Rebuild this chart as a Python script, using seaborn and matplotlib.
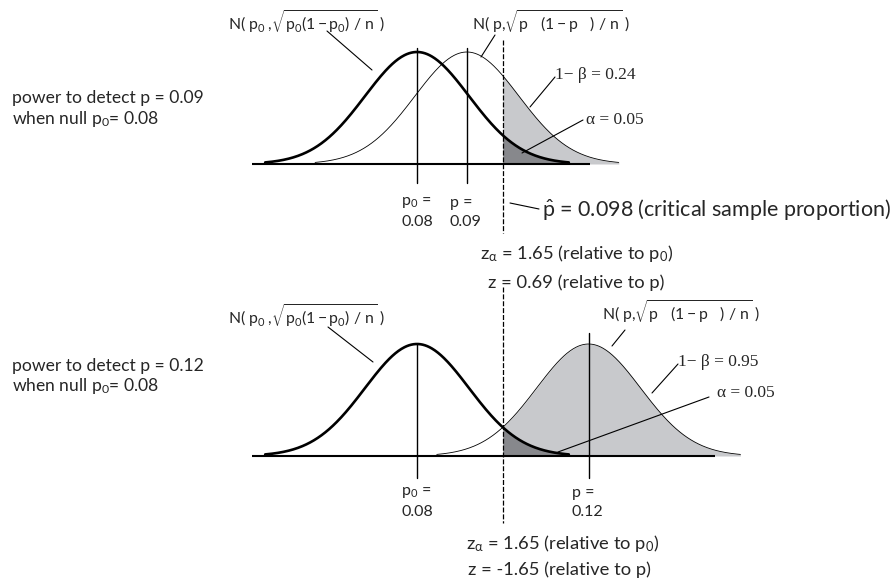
import numpy as np
import pandas as pd
import matplotlib
matplotlib.use("Agg")
import matplotlib.pyplot as plt
from matplotlib.lines import Line2D
import seaborn as sns

# ---------------- data ----------------
p0 = 0.08                      # null proportion
p_alt = [0.09, 0.12]           # alternative proportions (top, bottom)
p_crit = 0.098                 # critical sample proportion
z_alpha = 1.65                 # critical z relative to p0
z_rel_p = [0.69, -1.65]        # critical z relative to p (top, bottom)
alpha = 0.05
power = [0.24, 0.95]           # 1 - beta (top, bottom)

# ---------------- style ----------------
sns.set_theme(style="white")
plt.rcParams['font.family'] = ['Lato', 'DejaVu Sans']
plt.rcParams['mathtext.fontset'] = 'custom'
plt.rcParams['mathtext.rm'] = 'Lato'
plt.rcParams['mathtext.it'] = 'Lato'
plt.rcParams['mathtext.sf'] = 'Lato'
plt.rcParams['mathtext.bf'] = 'Lato:bold'

W, H = 895, 584
fig = plt.figure(figsize=(W / 100, H / 100), dpi=100)
fig.patch.set_facecolor('white')

PX0 = 417.0       # pixel of p0
SPX = 52.0        # pixels per standard error
PEAK = 112.0      # pixels of curve peak height
HALF = 2.92       # curves drawn over +/- HALF standard errors
LIGHT = '#c8c9cc'
DARK = '#87888c'
SANS = 11
SERIF = ['Liberation Serif', 'DejaVu Serif']


def fpos(x, y):
    return x / W, 1 - y / H


def ftext(x, y, s, **kw):
    kw.setdefault('fontsize', SANS)
    kw.setdefault('ha', 'left')
    kw.setdefault('va', 'center')
    fig.text(*fpos(x, y), s, **kw)


def leader(x1, y1, x2, y2):
    fig.add_artist(Line2D([x1 / W, x2 / W], [1 - y1 / H, 1 - y2 / H],
                          transform=fig.transFigure, color='black', lw=0.8))


def curve(center, zc):
    z = np.linspace(center - HALF, center + HALF, 400)
    z = np.sort(np.append(z, zc)) if center - HALF < zc < center + HALF else z
    d = np.exp(-0.5 * (z - center) ** 2)
    return pd.DataFrame({'z': z, 'd': d})


panels = [
    dict(rows=(0, 290), base=164, baseline_end=590, vtop=48, vbot=183,
         dtop=40, dbot=233, ptop=48),
    dict(rows=(290, 584), base=456, baseline_end=715, vtop=344, vbot=478,
         dtop=287, dbot=523, ptop=333),
]

xlim = ((0 - PX0) / SPX, (W - PX0) / SPX)

for i, pan in enumerate(panels):
    r0, r1 = pan['rows']
    base = pan['base']
    ax = fig.add_axes([0, 1 - r1 / H, 1, (r1 - r0) / H])
    ax.set_xlim(*xlim)
    ax.set_ylim(-(r1 - base) / PEAK, (base - r0) / PEAK)
    ax.axis('off')

    zc = z_alpha                              # critical value in null SE units
    c_alt = z_alpha - z_rel_p[i]              # centre of alternative curve
    null_df = curve(0.0, zc)
    alt_df = curve(c_alt, zc)

    # fills
    m = alt_df['z'] >= zc
    ax.fill_between(alt_df['z'][m], 0, alt_df['d'][m], color=LIGHT, lw=0, zorder=1)
    m0 = null_df['z'] >= zc
    ax.fill_between(null_df['z'][m0], 0, null_df['d'][m0], color=DARK, lw=0, zorder=2)

    # curves
    sns.lineplot(data=alt_df, x='z', y='d', ax=ax, color='black', lw=0.6,
                 sort=False, estimator=None, zorder=3)
    sns.lineplot(data=null_df, x='z', y='d', ax=ax, color='black', lw=1.9,
                 sort=False, estimator=None, zorder=4)

    # baseline
    ax.plot([(252 - PX0) / SPX, (pan['baseline_end'] - PX0) / SPX], [0, 0],
            color='black', lw=1.5, zorder=5, solid_capstyle='butt')

    # vertical markers
    yv = lambda py: (base - py) / PEAK
    ax.plot([0, 0], [yv(pan['vtop']), yv(pan['vbot'])], color='black', lw=1.0,
            zorder=6, clip_on=False)
    ax.plot([c_alt, c_alt], [yv(pan['ptop']), yv(pan['vbot'])], color='black',
            lw=1.0, zorder=6, clip_on=False)
    ax.plot([zc, zc], [yv(pan['dtop']), yv(pan['dbot'])], color='black', lw=0.9,
            ls=(0, (4, 1.5)), zorder=6, clip_on=False)

# ---------------- texts: top panel ----------------
N0 = r"N( $p_0$ ,$\sqrt{p_0(1 - p_0)\ /\ n}$ )"
N1 = r"N( p,$\sqrt{p\ \ \ (1 - p\ \ \ )\ /\ n}$ )"
NFS = 11.3
LFS = 12.6
ZFS = 13.2

ftext(228, 22, N0, fontsize=NFS)
leader(327, 31, 372, 70)
ftext(472, 22, N1, fontsize=NFS)
leader(495, 35, 481, 57)
ftext(555, 75, f"1\u2212 \u03b2 = {power[0]:.2f}", family=SERIF, fontsize=12.5)
leader(555, 77, 530, 107)
ftext(586, 120, f"\u03b1 = {alpha:.2f}", family=SERIF, fontsize=12.5)
leader(583, 120, 522, 153)

ftext(12, 98, f"power to detect p = {p_alt[0]:.2f}", fontsize=LFS)
ftext(12, 119, rf"when null p$_0$= {p0:.2f}", fontsize=LFS)

ftext(401, 203, r"p$_0$ =", fontsize=11.5)
ftext(401, 222, f"{p0:.2f}", fontsize=11.5)
ftext(450, 203, "p =", fontsize=11.5)
ftext(450, 222, f"{p_alt[0]:.2f}", fontsize=11.5)

leader(510, 203, 539, 209)
ftext(542, 210, rf"$\hat{{p}}$ = {p_crit:.3f} (critical sample proportion)", fontsize=15.5)

ftext(480, 253, rf"z$_\alpha$ = {z_alpha:.2f} (relative to p$_0$)", fontsize=ZFS)
ftext(488, 283, f"z = {z_rel_p[0]:.2f} (relative to p)", fontsize=ZFS)

# ---------------- texts: bottom panel ----------------
ftext(228, 316, N0, fontsize=NFS)
leader(328, 327, 373, 362)
ftext(602, 312, N1, fontsize=NFS)
leader(625, 330, 612, 346)
ftext(678, 362, f"1\u2212 \u03b2 = {power[1]:.2f}", family=SERIF, fontsize=12.5)
leader(678, 364, 652, 393)
ftext(717, 393, f"\u03b1 = {alpha:.2f}", family=SERIF, fontsize=12.5)
leader(709, 397, 558, 452)

ftext(12, 366, f"power to detect p = {p_alt[1]:.2f}", fontsize=LFS)
ftext(12, 386, rf"when null p$_0$= {p0:.2f}", fontsize=LFS)

ftext(401, 493, r"p$_0$ =", fontsize=11.5)
ftext(401, 512, f"{p0:.2f}", fontsize=11.5)
ftext(572, 493, "p =", fontsize=11.5)
ftext(572, 512, f"{p_alt[1]:.2f}", fontsize=11.5)

ftext(466, 543, rf"z$_\alpha$ = {z_alpha:.2f} (relative to p$_0$)", fontsize=ZFS)
ftext(468, 570, f"z = {z_rel_p[1]:.2f} (relative to p)", fontsize=ZFS)

fig.savefig("out.png", dpi=100)
